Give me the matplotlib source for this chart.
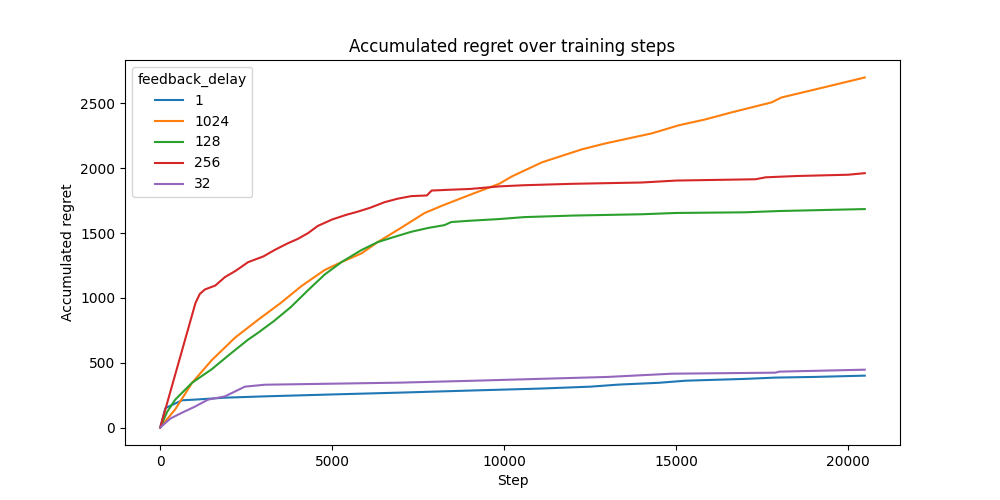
import matplotlib
matplotlib.use('Agg')
import matplotlib.pyplot as plt

# --------------------------
# Accumulated regret per feedback delay
# --------------------------

steps_1 = [0, 150, 640, 1000, 1880, 3000, 5000, 6960, 9000, 11010, 12500, 13330, 14500, 15270,
           17000, 17880, 19000, 20480]
regret_1 = [0, 150, 210, 215, 230, 240, 255, 269, 285, 300, 315, 331, 345, 361,
            375, 385, 390, 400]

steps_1024 = [0, 435, 930, 1500, 2170, 2840, 3500, 4100, 4780, 5275, 5850, 6320, 7000, 7680,
              8200, 9130, 9855, 10230, 11100, 12260, 12950, 14290, 15070, 15850, 16610, 17770,
              18060, 19040, 19510, 20480]
regret_1024 = [0, 140, 346, 520, 692, 830, 960, 1090, 1215, 1277, 1343, 1430, 1540, 1654,
               1712, 1808, 1880, 1938, 2046, 2146, 2192, 2269, 2331, 2377, 2431, 2508,
               2546, 2608, 2638, 2700]

steps_128 = [0, 200, 435, 930, 1500, 2000, 2550, 2840, 3300, 3800, 4300, 4780, 5275, 5850,
             6320, 6800, 7300, 7800, 8260, 8460, 9000, 9855, 10580, 12000, 14000, 15000,
             17000, 18000, 20480]
regret_128 = [0, 120, 215, 346, 450, 560, 677, 730, 820, 930, 1060, 1180, 1277, 1369,
              1430, 1470, 1510, 1540, 1561, 1585, 1595, 1608, 1623, 1635, 1645, 1655,
              1660, 1670, 1685]

steps_256 = [0, 1024, 1150, 1300, 1600, 1880, 2200, 2550, 3000, 3330, 3700, 4000, 4300, 4580,
             5000, 5400, 5740, 6100, 6520, 6900, 7300, 7750, 7890, 8500, 9000, 9855, 10580,
             12000, 14000, 15000, 17300, 17600, 18500, 20000, 20480]
regret_256 = [0, 960, 1030, 1065, 1095, 1160, 1210, 1275, 1320, 1370, 1420, 1455, 1500, 1555,
              1605, 1640, 1665, 1695, 1738, 1765, 1785, 1790, 1828, 1835, 1840, 1860, 1869,
              1880, 1890, 1905, 1915, 1930, 1940, 1950, 1962]

steps_32 = [0, 300, 640, 1000, 1390, 1880, 2460, 3040, 5000, 6960, 9000, 11000, 13000, 14870,
            17880, 18000, 20480]
regret_32 = [0, 70, 115, 160, 215, 240, 315, 330, 338, 346, 360, 375, 390, 415,
             423, 431, 446]

series = [
    ('1', steps_1, regret_1),
    ('1024', steps_1024, regret_1024),
    ('128', steps_128, regret_128),
    ('256', steps_256, regret_256),
    ('32', steps_32, regret_32),
]

fig, ax = plt.subplots(figsize=(10, 5), dpi=100)

for name, xs, ys in series:
    ax.plot(xs, ys, label=name, linewidth=1.5)

ax.set_title('Accumulated regret over training steps')
ax.set_xlabel('Step')
ax.set_ylabel('Accumulated regret')
ax.legend(title='feedback_delay', loc='upper left')

plt.savefig('out.png', dpi=100)
